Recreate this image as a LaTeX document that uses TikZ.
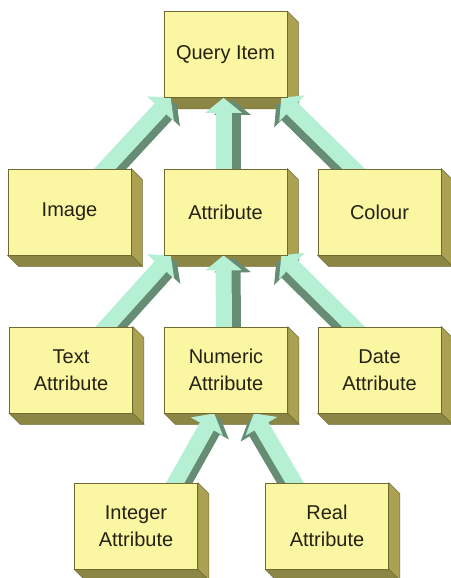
\documentclass[tikz,border=0pt]{standalone}
\usepackage{fontspec}
\setmainfont{Liberation Sans}
\usepackage{tikz}
\usetikzlibrary{
    arrows.meta,
    calc
}
\definecolor{boxfront}{RGB}{250,246,162}
\definecolor{boxside}{RGB}{170,162,82}
\definecolor{boxbottom}{RGB}{140,134,68}
\definecolor{boxedge}{RGB}{112,106,50}
\definecolor{linkmint}{RGB}{182,240,212}
\definecolor{linkshade}{RGB}{102,140,116}
\definecolor{labeltext}{RGB}{36,34,18}

\pgfdeclarelayer{background}
\pgfdeclarelayer{links}
\pgfsetlayers{background,links,main}

\tikzset{
    qbox/.style={draw=boxedge, line width=0.7pt, fill=boxfront,
        minimum width=123pt, minimum height=86pt, inner sep=0pt,
        align=center, text=labeltext, font=\fontsize{20}{27}\selectfont},
    fatshade/.style={linkshade, line width=16pt,
        -{Triangle[width=36pt,length=15pt]}},
    fatlight/.style={linkmint, line width=16pt,
        -{Triangle[width=36pt,length=15pt]}}
}

% 3D link: shaded copy shifted by #5, light copy on top
\newcommand{\fatlink}[5]{%
    \draw[fatshade] ($(#1)+(#2)+(#5)$) -- ($(#3)+(#4)+(#5)$);
    \draw[fatlight] ($(#1)+(#2)$) -- ($(#3)+(#4)$);
}

\begin{document}
\begin{tikzpicture}[x=1pt,y=-1pt]
    \useasboundingbox (0,0) rectangle (450,578);

    % Boxes
    \node[qbox] (query) at (225.5,54.5) {Query Item};
    \node[qbox] (image) at (69.5,212) {Image};
    \node[qbox] (attr) at (225.5,212) {Attribute};
    \node[qbox] (colour) at (379.5,212) {Colour};
    \node[qbox] (textattr) at (71,370) {Text\\Attribute};
    \node[qbox] (numattr) at (226,370) {Numeric\\Attribute};
    \node[qbox] (dateattr) at (379.5,370) {Date\\Attribute};
    \node[qbox] (intattr) at (136,526) {Integer\\Attribute};
    \node[qbox] (realattr) at (327,526) {Real\\Attribute};

    % Extruded sides
    \begin{pgfonlayer}{background}
    \foreach \n in {query,image,attr,colour,textattr,numattr,dateattr,intattr,realattr} {
        \filldraw[fill=boxside,draw=boxedge,line width=0.5pt]
            (\n.north east) -- ++(11,11) -- ($(\n.south east)+(11,11)$) -- (\n.south east) -- cycle;
        \filldraw[fill=boxbottom,draw=boxedge,line width=0.5pt]
            (\n.south west) -- ++(11,11) -- ($(\n.south east)+(11,11)$) -- (\n.south east) -- cycle;
    }
    \end{pgfonlayer}

    % Links
    \begin{pgfonlayer}{links}
    \fatlink{image.north}{30,6}{query.south west}{7,0}{6,5}
    \fatlink{attr.north}{-2,6}{query.south}{-2,0}{9,2}
    \fatlink{colour.north}{-20,6}{query.south east}{-6,0}{-5,6}
    \fatlink{textattr.north}{30,6}{attr.south west}{7,0}{6,5}
    \fatlink{numattr.north}{-2,6}{attr.south}{-2,0}{9,2}
    \fatlink{dateattr.north}{-20,6}{attr.south east}{-6,0}{-5,6}
    \fatlink{intattr.north}{36,6}{numattr.south west}{50,0}{6,4}
    \fatlink{realattr.north}{-29,6}{numattr.south east}{-34,0}{-5,6}
    \end{pgfonlayer}
\end{tikzpicture}
\end{document}
